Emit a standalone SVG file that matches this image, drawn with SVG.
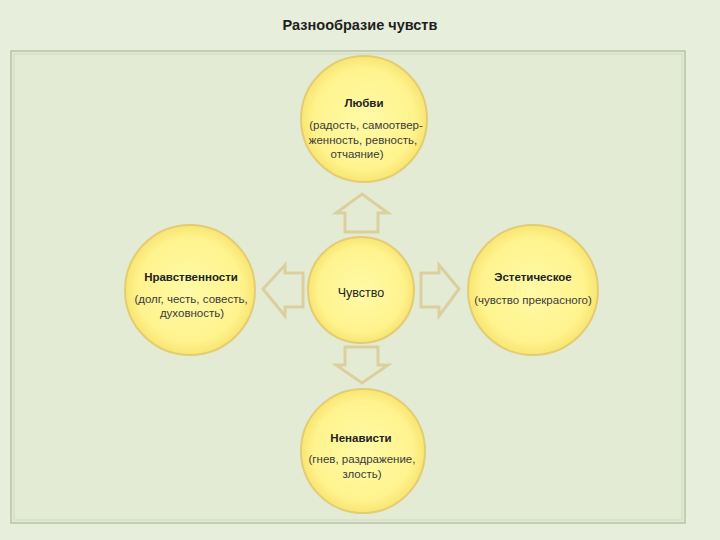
<svg xmlns="http://www.w3.org/2000/svg" width="720" height="540" viewBox="0 0 720 540">
<defs>
<radialGradient id="yg" cx="0.5" cy="0.5" r="0.5">
<stop offset="0" stop-color="#fffaa6"/>
<stop offset="0.8" stop-color="#fff38e"/>
<stop offset="1" stop-color="#f8e572"/>
</radialGradient>
<style>
.c{fill:url(#yg);stroke:#e3cc72;stroke-width:2}
.t{font-family:"Liberation Sans",Arial,sans-serif;font-size:11.5px;fill:#3a3a3a;text-anchor:middle}
.b{font-weight:bold;font-size:11.5px;fill:#222}
.ar{fill:none;stroke:#dccf9e;stroke-width:3;stroke-linejoin:miter}
</style>
</defs>
<rect width="720" height="540" fill="#e8eedc"/>
<rect x="11" y="51" width="674" height="472" fill="#e4ebd5" stroke="#b7c2a4" stroke-width="1.5"/>
<rect x="14" y="54" width="668" height="466" fill="none" stroke="#cfd8bf" stroke-width="1"/>
<text x="360" y="30" font-family="Liberation Sans,Arial,sans-serif" font-size="14.5" font-weight="bold" fill="#1e1e1e" text-anchor="middle">Разнообразие чувств</text>
<g id="connectors">
<path class="ar" d="M362,194 L388,213 L378,213 L378,232 L345,232 L345,213 L336,213 Z"/>
<path class="ar" d="M263,289 L285,265 L285,273 L303,273 L303,307 L285,307 L285,316 Z"/>
<path class="ar" d="M459,289 L439,265 L439,273 L421,273 L421,307 L439,307 L439,316 Z"/>
<path class="ar" d="M362,383 L388,365 L378,365 L378,347 L345,347 L345,365 L336,365 Z"/>
</g>
<g id="love">
<circle class="c" cx="364" cy="119" r="63"/>
<text class="t b" x="364" y="107">Любви</text>
<text class="t" x="366" y="129">(радость, самоотвер-</text>
<text class="t" x="363" y="144">женность, ревность,</text>
<text class="t" x="357" y="158">отчаяние)</text>
</g>
<g id="moral">
<circle class="c" cx="190" cy="290" r="65"/>
<text class="t b" x="191" y="281">Нравственности</text>
<text class="t" x="191" y="303">(долг, честь, совесть,</text>
<text class="t" x="192" y="317">духовность)</text>
</g>
<g id="feeling">
<circle class="c" cx="361" cy="290" r="53"/>
<text x="361" y="297" font-family="Liberation Sans,Arial,sans-serif" font-size="12.5" fill="#222" text-anchor="middle">Чувство</text>
</g>
<g id="aesthetic">
<circle class="c" cx="533" cy="290" r="65"/>
<text class="t b" x="533" y="281">Эстетическое</text>
<text class="t" x="533" y="304">(чувство прекрасного)</text>
</g>
<g id="hate">
<circle class="c" cx="363" cy="451" r="62"/>
<text class="t b" x="361" y="442">Ненависти</text>
<text class="t" x="362" y="463">(гнев, раздражение,</text>
<text class="t" x="362" y="478">злость)</text>
</g>
</svg>
